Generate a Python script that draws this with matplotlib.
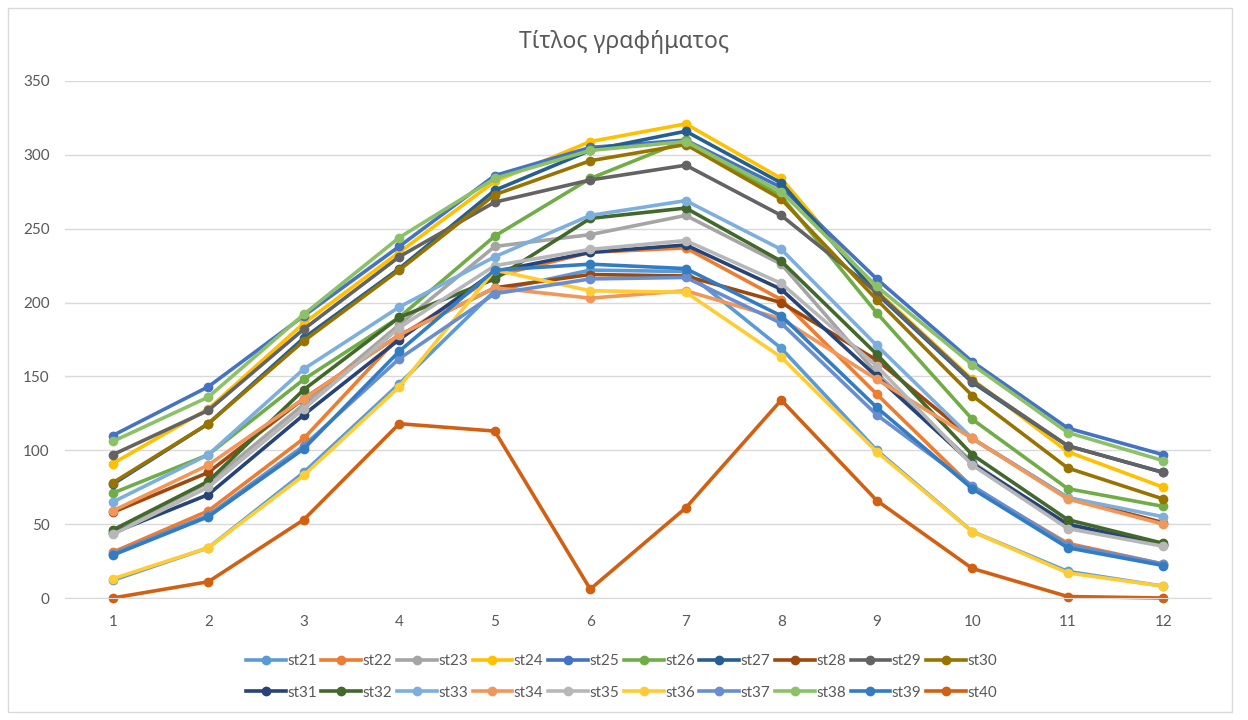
import matplotlib
matplotlib.use("Agg")
import matplotlib.pyplot as plt
from matplotlib.patches import Rectangle

months = list(range(1, 13))
names = ["st%d" % i for i in range(21, 41)]

st21 = [12, 34, 85, 145, 208, 222, 221, 169, 100, 45, 18, 8]
st22 = [31, 59, 108, 177, 218, 234, 237, 202, 138, 75, 37, 23]
st23 = [45, 78, 131, 185, 238, 246, 259, 226, 152, 92, 48, 36]
st24 = [91, 128, 186, 234, 282, 309, 321, 284, 208, 148, 99, 75]
st25 = [110, 143, 191, 238, 286, 305, 310, 278, 216, 160, 115, 97]
st26 = [71, 97, 148, 190, 245, 284, 310, 272, 193, 121, 74, 62]
st27 = [77, 118, 176, 223, 276, 303, 316, 281, 206, 146, 103, 85]
st28 = [58, 85, 135, 178, 210, 219, 218, 200, 161, 108, 68, 51]
st29 = [97, 127, 182, 231, 268, 283, 293, 259, 207, 147, 103, 85]
st30 = [78, 118, 174, 222, 273, 296, 307, 270, 202, 137, 88, 67]
st31 = [44, 70, 124, 175, 221, 234, 239, 209, 150, 91, 50, 36]
st32 = [46, 79, 141, 190, 216, 257, 264, 228, 165, 97, 53, 37]
st33 = [65, 97, 155, 197, 231, 259, 269, 236, 171, 108, 68, 55]
st34 = [59, 90, 135, 178, 210, 203, 208, 189, 148, 108, 67, 50]
st35 = [43, 75, 128, 183, 225, 236, 242, 213, 157, 90, 47, 35]
st36 = [13, 34, 83, 143, 222, 208, 207, 163, 99, 45, 17, 8]
st37 = [30, 56, 103, 162, 206, 216, 217, 186, 124, 76, 36, 23]
st38 = [106, 136, 192, 244, 284, 303, 309, 275, 211, 158, 112, 93]
st39 = [29, 55, 101, 167, 222, 226, 223, 191, 129, 74, 34, 22]
st40 = [0, 11, 53, 118, 113, 6, 61, 134, 66, 20, 1, 0]

series = [st21, st22, st23, st24, st25, st26, st27, st28, st29, st30,
          st31, st32, st33, st34, st35, st36, st37, st38, st39, st40]

colors = ["#5B9BD5", "#ED7D31", "#A5A5A5", "#FFC000", "#4472C4",
          "#70AD47", "#255E91", "#9E480E", "#636363", "#997300",
          "#264478", "#43682B", "#7CAFDD", "#F1975A", "#B7B7B7",
          "#FFCD33", "#698ED0", "#8CC168", "#327DC2", "#D26012"]

plt.rcParams['font.family'] = ['Lato', 'DejaVu Sans']

fig = plt.figure(figsize=(12.48, 7.2), dpi=100)
fig.patches.append(Rectangle((8 / 1248, 8 / 720), 1224 / 1248, 704 / 720,
                             transform=fig.transFigure, fill=False,
                             edgecolor="#D9D9D9", linewidth=1))

ax = fig.add_axes([65 / 1248, 1 - 598 / 720, (1211 - 65) / 1248, (598 - 81) / 720])

handles = []
for name, vals, c in zip(names, series, colors):
    h, = ax.plot(months, vals, color=c, linewidth=2.6, marker="o",
                 markersize=6, label=name, clip_on=False)
    handles.append(h)

ax.set_xlim(0.5, 12.5)
ax.set_ylim(0, 350)
ax.set_xticks(months)
ax.set_yticks(range(0, 351, 50))
ax.yaxis.grid(True, color="#D9D9D9", linewidth=1)
ax.set_axisbelow(True)
for s in ["top", "right", "left"]:
    ax.spines[s].set_visible(False)
ax.spines["bottom"].set_color("#D9D9D9")
ax.tick_params(length=0, colors="#595959", labelsize=11)
ax.tick_params(axis="x", pad=12)
ax.tick_params(axis="y", pad=11)

fig.text(0.5, 1 - 42 / 720, "Τίτλος γραφήματος", ha="center", va="center",
         fontsize=16.5, color="#595959", family=["Noto Sans", "DejaVu Sans"])

# legend is filled column by column, so interleave the two rows
order = []
for i in range(10):
    order += [i, i + 10]
leg = fig.legend([handles[i] for i in order], [names[i] for i in order],
                 ncol=10, loc="center", bbox_to_anchor=(0.498, 1 - 677 / 720),
                 frameon=False, fontsize=11, handlelength=2.6,
                 handletextpad=0.1, columnspacing=0.3, labelspacing=1.15)
for t in leg.get_texts():
    t.set_color("#595959")

fig.savefig("out.png", dpi=100)
